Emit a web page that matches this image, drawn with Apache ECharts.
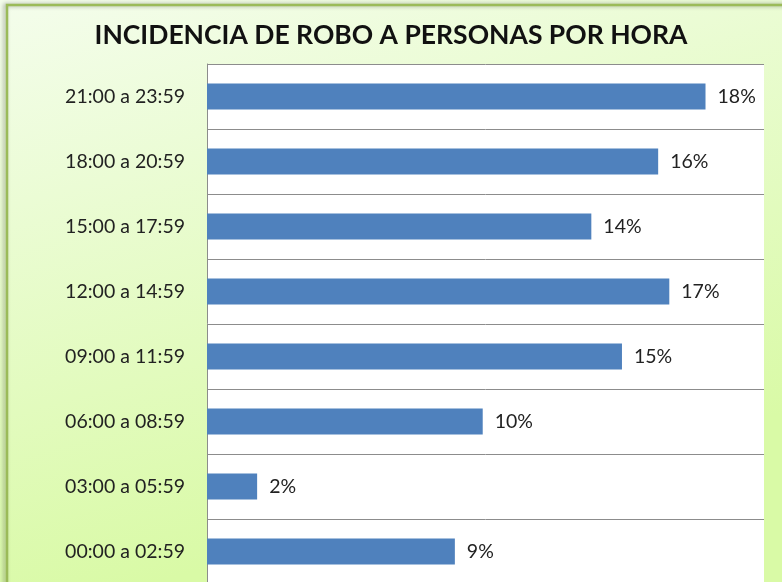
<!DOCTYPE html>
<html>
<head>
<meta charset="utf-8">
<script src="https://cdn.jsdelivr.net/npm/echarts@6/dist/echarts.min.js"></script>
<style>
  html, body { margin: 0; padding: 0; }
  #chart { width: 782px; height: 582px; }
</style>
</head>
<body>
<div id="chart"></div>
<script>
// franjas horarias (de abajo hacia arriba)
var horas = ['00:00 a 02:59', '03:00 a 05:59', '06:00 a 08:59', '09:00 a 11:59',
             '12:00 a 14:59', '15:00 a 17:59', '18:00 a 20:59', '21:00 a 23:59'];
// porcentaje de incidencia
var incidencia = [8.9, 1.8, 9.9, 14.9, 16.6, 13.8, 16.2, 17.9];

var chart = echarts.init(document.getElementById('chart'));

var option = {
  backgroundColor: {
    type: 'linear', x: 0, y: 0, x2: 0.2, y2: 1,
    colorStops: [
      { offset: 0, color: '#F4FDEC' },
      { offset: 1, color: '#D9FAA6' }
    ]
  },
  title: {
    text: 'INCIDENCIA DE ROBO A PERSONAS POR HORA',
    left: 'center',
    top: 17,
    textStyle: {
      fontFamily: 'Lato',
      fontSize: 26.5,
      fontWeight: 'bold',
      color: '#111'
    }
  },
  graphic: [{
    type: 'rect',
    shape: { x: 7, y: 5, width: 800, height: 600 },
    style: {
      fill: 'none',
      stroke: '#9BBB59',
      lineWidth: 2.5,
      shadowBlur: 4,
      shadowColor: 'rgba(0,0,0,0.35)',
      shadowOffsetX: -2
    },
    silent: true
  }],
  grid: {
    left: 207,
    width: 557,
    top: 64,
    height: 520,
    outerBoundsMode: 'none',
    show: true,
    backgroundColor: '#fff',
    borderWidth: 0
  },
  xAxis: {
    type: 'value',
    min: 0,
    max: 20,
    show: false
  },
  yAxis: {
    type: 'category',
    data: horas,
    axisLine: { show: true, lineStyle: { color: '#8c8c8c', width: 1 } },
    axisTick: { show: false },
    splitLine: { show: true, lineStyle: { color: '#8c8c8c', width: 1 } },
    axisLabel: {
      fontFamily: 'Lato',
      fontSize: 19.5,
      color: '#222',
      margin: 22
    }
  },
  series: [{
    type: 'bar',
    data: incidencia,
    barWidth: 26,
    itemStyle: { color: '#4F81BD' },
    label: {
      show: true,
      position: 'right',
      distance: 12,
      fontFamily: 'Lato',
      fontSize: 19.5,
      color: '#222',
      formatter: function (p) { return Math.round(p.value) + '%'; }
    }
  }]
};

chart.setOption(option);
</script>
</body>
</html>
